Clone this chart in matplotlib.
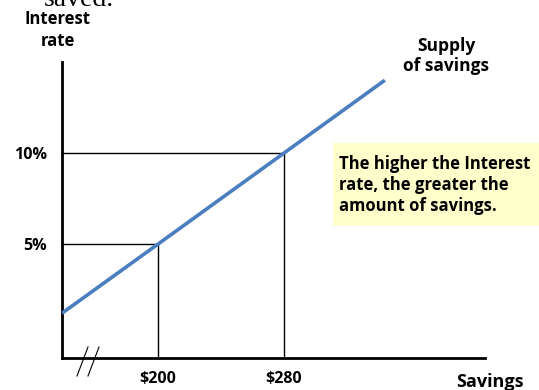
import matplotlib
matplotlib.use("Agg")
import matplotlib.pyplot as plt

# Supply of savings curve (savings in $, interest rate in %)
savings = [139, 200, 280, 344]
rate = [1.2, 5, 10, 14]

# Highlighted points on the curve
mark_savings = [200, 280]
mark_rate = [5, 10]

x_tick_labels = ["$200", "$280"]
y_tick_labels = ["5%", "10%"]

plt.rcParams["font.family"] = ["Open Sans", "DejaVu Sans"]

fig = plt.figure(figsize=(5.39, 3.90), dpi=100)
ax = fig.add_axes([62 / 539, 32 / 390, 423 / 539, 296 / 390])
ax.set_xlim(139, 407.6)
ax.set_ylim(-1.26, 15.0)

for s in ["top", "right"]:
    ax.spines[s].set_visible(False)
for s in ["left", "bottom"]:
    ax.spines[s].set_linewidth(2)
    ax.spines[s].set_color("black")

# Guide lines to each highlighted point
for sx, ry in zip(mark_savings, mark_rate):
    ax.plot([139, sx], [ry, ry], color="black", lw=1, zorder=2)
    ax.plot([sx, sx], [-1.26, ry], color="black", lw=1, zorder=2)

ax.plot(savings, rate, color="#4a7ebf", lw=2.6, solid_capstyle="butt", zorder=3)

ax.set_xticks(mark_savings)
ax.set_xticklabels(x_tick_labels, fontsize=11.5, fontweight="bold")
ax.set_yticks(mark_rate)
ax.set_yticklabels(y_tick_labels, fontsize=11.5, fontweight="bold")
ax.tick_params(axis="x", length=0, pad=9)
ax.tick_params(axis="y", length=0, pad=11)

# Axis break marks
for x0 in [77, 88]:
    fig.add_artist(plt.Line2D([x0 / 539, (x0 + 11) / 539],
                              [1 - 376 / 390, 1 - 347 / 390],
                              color="black", lw=0.8))

fig.text(58 / 539, 1 - 30 / 390, "Interest\nrate", ha="center", va="center",
         fontsize=12, fontweight="bold", linespacing=1.35)
fig.text(490 / 539, 1 - 382 / 390, "Savings", ha="center", va="center",
         fontsize=13, fontweight="bold")
fig.text(446 / 539, 1 - 56 / 390, "Supply\nof savings", ha="center", va="center",
         fontsize=12.5, fontweight="bold", linespacing=1.2)

fig.add_artist(plt.Rectangle((333 / 539, 1 - 226 / 390), 206 / 539, 83 / 390,
                             facecolor="#ffffcc", edgecolor="none"))
fig.text(339 / 539, 1 - 185 / 390,
         "The higher the Interest\nrate, the greater the\namount of savings.",
         ha="left", va="center", fontsize=12, fontweight="bold", linespacing=1.2)

fig.text(79 / 539, 1 - 6 / 390, "saved.", ha="center", va="baseline",
         fontsize=20, family="Liberation Serif")

fig.savefig("out.png", dpi=100)
